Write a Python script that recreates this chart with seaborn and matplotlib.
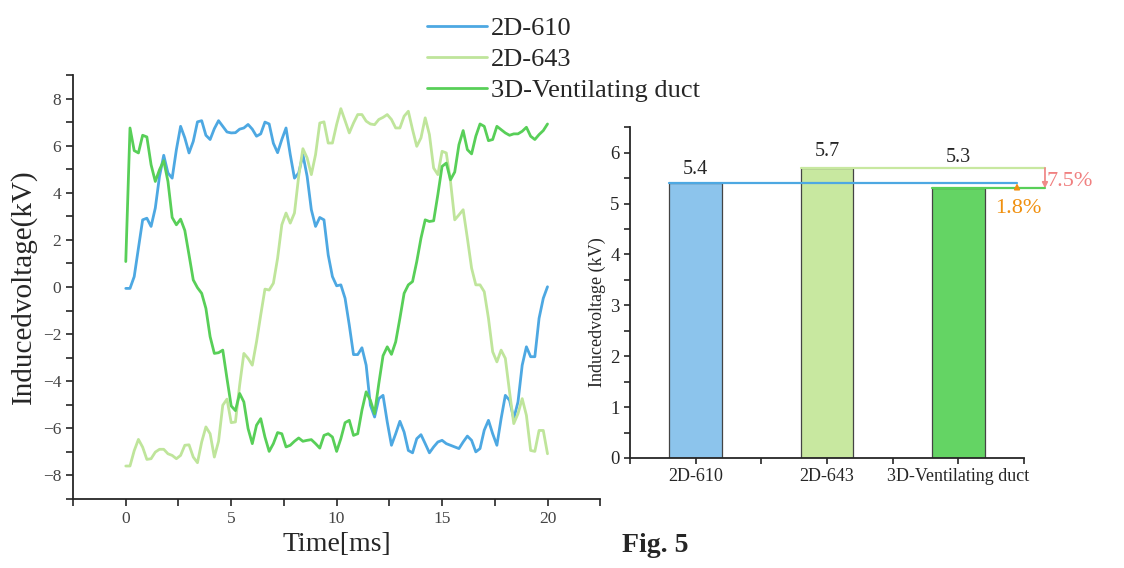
import numpy as np
import pandas as pd
import matplotlib.pyplot as plt
from matplotlib.ticker import MultipleLocator
import seaborn as sns

# time axis [ms], sampled every 0.2 ms
time_ms = np.round(np.arange(0, 20.01, 0.2), 1)

v_2d610 = [
    -0.06, -0.06, 0.44, 1.65, 2.85, 2.92, 2.57, 3.35, 4.70, 5.59, 4.84, 4.62, 5.83, 6.82, 6.33,
    5.69, 6.18, 7.01, 7.06, 6.44, 6.26, 6.72, 7.06, 6.82, 6.58,
    6.54, 6.55, 6.70, 6.75, 6.90, 6.70, 6.40, 6.50, 7.00, 6.92, 6.10, 5.70, 6.26, 6.75, 5.62,
    4.62, 4.84, 5.62, 4.70, 3.28, 2.57, 2.95, 2.85, 1.36, 0.44,
    0.05, 0.09, -0.48, -1.62, -2.87, -2.87, -2.58, -3.32, -5.02, -5.52, -4.74, -4.60, -5.73, -6.72, -6.23,
    -5.70, -6.16, -6.94, -7.04, -6.44, -6.27, -6.65, -7.04, -6.79, -6.58,
    -6.51, -6.65, -6.72, -6.79, -6.86, -6.58, -6.33, -6.51, -7.00, -6.86, -6.08, -5.66, -6.23, -6.72, -5.59,
    -4.60, -4.81, -5.59, -4.88, -3.32, -2.54, -2.96, -2.96, -1.33, -0.48, 0.01,
]
v_2d643 = [
    -7.60, -7.60, -6.95, -6.47, -6.80, -7.32, -7.29, -7.01, -6.89, -6.89, -7.08, -7.15, -7.29, -7.15, -6.72,
    -6.70, -7.22, -7.46, -6.58, -5.94, -6.23, -7.22, -6.55, -5.02, -4.76,
    -5.76, -5.73, -4.17, -2.82, -3.03, -3.32, -2.33, -1.19, -0.09, -0.13, 0.16, 1.22, 2.64, 3.14, 2.71,
    3.14, 4.70, 5.87, 5.48, 4.77, 5.62, 6.96, 7.01, 6.11, 6.11,
    6.90, 7.57, 7.06, 6.54, 6.96, 7.32, 7.32, 7.04, 6.92, 6.89, 7.11, 7.20, 7.32, 7.11, 6.75,
    6.75, 7.25, 7.46, 6.68, 5.97, 6.33, 7.18, 6.47, 5.05, 4.77,
    5.76, 5.69, 4.48, 2.85, 3.06, 3.28, 2.07, 0.80, 0.09, 0.09, -0.20, -1.33, -2.75, -3.18, -2.68,
    -3.03, -4.45, -5.80, -5.38, -4.74, -5.45, -6.94, -6.98, -6.09, -6.09, -7.08,
]
v_3d = [
    1.08, 6.75, 5.79, 5.69, 6.44, 6.37, 5.19, 4.48, 4.98, 5.36, 4.48, 2.95, 2.64, 2.88, 2.40,
    1.36, 0.30, -0.03, -0.27, -0.91, -2.11, -2.82, -2.79, -2.68, -3.89,
    -5.05, -5.25, -4.52, -4.88, -6.01, -6.65, -5.87, -5.59, -6.37, -6.98, -6.65, -6.18, -6.23, -6.79, -6.72,
    -6.55, -6.41, -6.55, -6.51, -6.48, -6.65, -6.84, -6.30, -6.23, -6.37,
    -6.98, -6.44, -5.76, -5.66, -6.30, -6.23, -5.23, -4.45, -4.81, -5.38, -4.10, -2.92, -2.54, -2.86, -2.33,
    -1.33, -0.27, 0.09, 0.23, 1.08, 2.07, 2.85, 2.78, 2.81, 3.92,
    5.12, 5.26, 4.55, 4.88, 6.04, 6.64, 5.83, 5.65, 6.40, 6.92, 6.82, 6.21, 6.26, 6.82, 6.68,
    6.54, 6.44, 6.50, 6.50, 6.61, 6.78, 6.40, 6.26, 6.47, 6.64, 6.92,
]

series_names = ['2D-610', '2D-643', '3D-Ventilating duct']
line_colors = ['#4DA8E2', '#BFE59B', '#58CF58']
bar_colors = ['#8CC4EC', '#C8E8A0', '#64D464']
peak_values = [5.4, 5.7, 5.3]

df = pd.DataFrame({
    'time': np.tile(time_ms, 3),
    'voltage': v_2d610 + v_2d643 + v_3d,
    'series': np.repeat(series_names, len(time_ms)),
})
bars = pd.DataFrame({'model': series_names, 'peak': peak_values})

sns.set_style('ticks')
plt.rcParams['font.family'] = ['Liberation Serif', 'DejaVu Serif']
plt.rcParams['axes.linewidth'] = 1.3

fig = plt.figure(figsize=(11.24, 5.68), dpi=100)

# left: waveform
ax1 = fig.add_axes([0.065, 0.1215, 0.469, 0.7465])
sns.lineplot(data=df, x='time', y='voltage', hue='series', palette=line_colors,
             linewidth=2, ax=ax1)
handles, labels = ax1.get_legend_handles_labels()
ax1.get_legend().remove()
ax1.set_xlim(-2.5, 22.5)
ax1.set_ylim(-9, 9)
ax1.xaxis.set_major_locator(MultipleLocator(5))
ax1.xaxis.set_minor_locator(MultipleLocator(2.5))
ax1.yaxis.set_major_locator(MultipleLocator(2))
ax1.yaxis.set_minor_locator(MultipleLocator(1))
ax1.tick_params(which='both', direction='out', length=5, width=1.2,
                labelsize=12.5, labelcolor='#444444')
ax1.set_xlabel('Time[ms]', fontsize=20)
ax1.set_ylabel('Inducedvoltage(kV)', fontsize=21)
sns.despine(ax=ax1)

fig.legend(handles, labels, loc='upper left', bbox_to_anchor=(0.3585, 1.012),
           frameon=False, fontsize=19, handlelength=2.3, handletextpad=0.15,
           labelspacing=0.28)

# right: peak voltage bars
ax2 = fig.add_axes([0.5605, 0.1937, 0.3505, 0.5823])
sns.barplot(data=bars, x='model', y='peak', hue='model', palette=bar_colors,
            saturation=1, width=0.4, edgecolor='#444444', linewidth=0.9,
            legend=False, ax=ax2)
ax2.set_xlim(-0.5, 2.5)
ax2.set_ylim(0, 6.5)
ax2.set_xticks([0, 1, 2])
ax2.set_xticks([-0.5, 0.5, 1.5, 2.5], minor=True)
ax2.yaxis.set_major_locator(MultipleLocator(1))
ax2.yaxis.set_minor_locator(MultipleLocator(0.5))
ax2.tick_params(which='both', direction='out', length=4, width=1.2)
ax2.tick_params(axis='y', labelsize=13.5)
ax2.tick_params(axis='x', labelsize=13)
ax2.set_xlabel('')
ax2.set_ylabel('Inducedvoltage (kV)', fontsize=13)
ax2.yaxis.set_label_coords(-0.06, 0.44)
sns.despine(ax=ax2)

label_offsets = [0.27, 0.32, 0.6]
for i, (v, off) in enumerate(zip(peak_values, label_offsets)):
    ax2.text(i, v + off, f'{v}', ha='center', va='center', fontsize=14.5)

# comparison guide lines
ax2.plot([-0.2, 2.447], [peak_values[0]] * 2, color='#4DA8E2', lw=1.6, clip_on=False)
ax2.plot([0.8, 2.66], [peak_values[1]] * 2, color='#C8E8A0', lw=1.6, clip_on=False)
ax2.plot([1.8, 2.66], [peak_values[2]] * 2, color='#58CF58', lw=1.6, clip_on=False)
ax2.annotate('', xy=(2.66, peak_values[2]), xytext=(2.66, peak_values[1]),
             arrowprops=dict(arrowstyle='-|>', color='#F08A8A', lw=1.3,
                             mutation_scale=8, shrinkA=0, shrinkB=0),
             annotation_clip=False)
ax2.annotate('', xy=(2.447, peak_values[0]), xytext=(2.447, peak_values[2]),
             arrowprops=dict(arrowstyle='-|>', color='#F0900F', lw=1.3,
                             mutation_scale=8, shrinkA=0, shrinkB=0),
             annotation_clip=False)
ax2.text(2.67, 5.43, '7.5%', color='#F08080', fontsize=16, ha='left', va='center')
ax2.text(2.46, 4.9, '1.8%', color='#F0900F', fontsize=16, ha='center', va='center')

fig.text(0.553, 0.04, 'Fig. 5', fontsize=20, fontweight='bold', ha='left', va='center')

fig.savefig('out.png', dpi=100)
